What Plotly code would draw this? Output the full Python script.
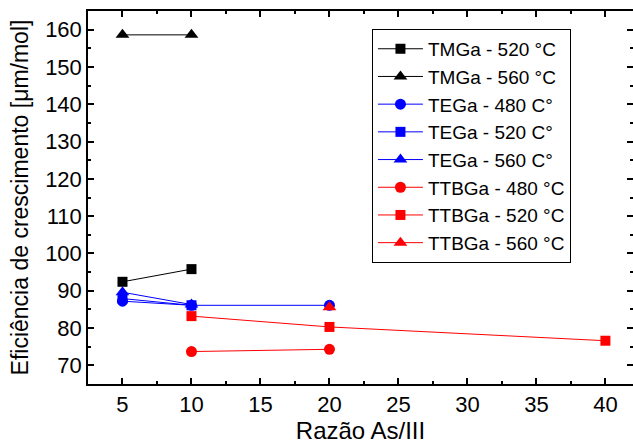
import plotly.graph_objects as go

# Data
tmga520_x = [5, 10]
tmga520_y = [92.4, 95.8]
tmga560_x = [5, 10]
tmga560_y = [158.6, 158.6]
tega480_x = [5, 10, 20]
tega480_y = [87.2, 86.1, 86.1]
tega520_x = [5, 10]
tega520_y = [87.9, 86.1]
tega560_x = [5, 10]
tega560_y = [89.6, 86.3]
ttbga480_x = [10, 20]
ttbga480_y = [73.7, 74.3]
ttbga520_x = [10, 20, 40]
ttbga520_y = [83.2, 80.3, 76.6]
ttbga560_x = [20]
ttbga560_y = [85.6]

series = [
    ("TMGa - 520 °C", tmga520_x, tmga520_y, "black", "square", 10),
    ("TMGa - 560 °C", tmga560_x, tmga560_y, "black", "triangle-up", 12),
    ("TEGa - 480 C°", tega480_x, tega480_y, "#0000ff", "circle", 11),
    ("TEGa - 520 C°", tega520_x, tega520_y, "#0000ff", "square", 10),
    ("TEGa - 560 C°", tega560_x, tega560_y, "#0000ff", "triangle-up", 12),
    ("TTBGa - 480 °C", ttbga480_x, ttbga480_y, "#ff0000", "circle", 11),
    ("TTBGa - 520 °C", ttbga520_x, ttbga520_y, "#ff0000", "square", 10),
    ("TTBGa - 560 °C", ttbga560_x, ttbga560_y, "#ff0000", "triangle-up", 12),
]

fig = go.Figure()
for name, xs, ys, col, sym, sz in series:
    fig.add_trace(go.Scatter(
        x=xs, y=ys, name=name, mode="lines+markers",
        line=dict(color=col, width=1),
        marker=dict(symbol=sym, size=sz, color=col, line=dict(width=0)),
    ))

font_family = "Liberation Sans, Arial, sans-serif"
axis_common = dict(
    showline=True, linecolor="black", linewidth=1.5, mirror="allticks",
    ticks="inside", ticklen=6, tickwidth=1.5, tickcolor="black",
    showgrid=False, zeroline=False, automargin=False,
    tickfont=dict(family=font_family, size=22, color="black"),
)

fig.update_xaxes(
    range=[2.5, 42], dtick=5, tick0=0,
    minor=dict(dtick=2.5, tick0=0, ticks="inside", ticklen=3, tickwidth=1.5, tickcolor="black"),
    title=dict(text="Razão As/III", font=dict(family=font_family, size=24, color="black"), standoff=4),
    **axis_common,
)
fig.update_yaxes(
    range=[65, 165], dtick=10, tick0=0,
    minor=dict(dtick=5, tick0=0, ticks="inside", ticklen=3, tickwidth=1.5, tickcolor="black"),
    title=dict(text="Eficiência de crescimento [μm/mol]", font=dict(family=font_family, size=23, color="black"), standoff=10),
    **axis_common,
)

fig.update_layout(
    width=633, height=445,
    margin=dict(l=88, r=0, t=11, b=61),
    paper_bgcolor="white", plot_bgcolor="white",
    font=dict(family=font_family, color="black"),
    legend=dict(
        x=0.521, y=0.952, xanchor="left", yanchor="top",
        bordercolor="black", borderwidth=1, bgcolor="white",
        font=dict(family=font_family, size=19, color="black"),
        tracegroupgap=0, itemwidth=45,
    ),
)

fig.write_html(
    "out.html",
    config={"displayModeBar": False},
    post_script="document.body.style.margin='0';document.body.style.overflow='hidden';",
)
